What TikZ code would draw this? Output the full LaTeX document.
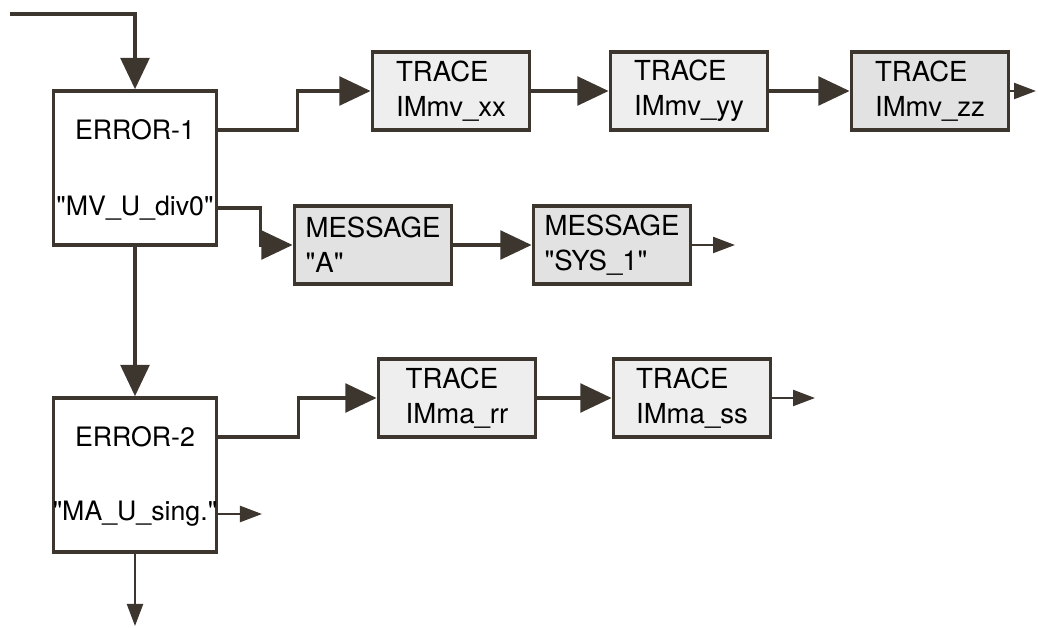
\documentclass[tikz,border=0pt]{standalone}
\usepackage{fontspec}
\setmainfont{TeX Gyre Heros}
\usetikzlibrary{arrows.meta}
\definecolor{inkbrown}{RGB}{60,54,47}
\definecolor{stipple}{RGB}{238,238,238}
\definecolor{stippledk}{RGB}{226,226,226}
\tikzset{
  errbox/.style={draw=inkbrown, line width=2.6pt, fill=white, minimum width=4.08cm, minimum height=3.85cm},
  tracebox/.style={draw=inkbrown, line width=2.6pt, fill=stipple, minimum width=3.93cm, minimum height=1.95cm, align=left, inner sep=0pt, font=\fontsize{19.6}{25}\selectfont},
  msgbox/.style={tracebox, fill=stippledk},
  lbl/.style={font=\fontsize{19}{22}\selectfont, inner sep=1pt},
  conn/.style={inkbrown, line width=2.2pt, -{Triangle[length=0.78cm,width=0.72cm]}},
  exit/.style={inkbrown, line width=1.6pt, -{Triangle[length=0.55cm,width=0.4cm]}},
}
\begin{document}
\begin{tikzpicture}[x=0.025cm,y=-0.025cm]
  \useasboundingbox (0,0) rectangle (1038,628);
  % error boxes
  \node[errbox] (err1) at (135,168) {};
  \node[lbl] (err1t) at (135,130) {ERROR-1};
  \node[lbl] (err1m) at (135,208) {\textquotedbl MV\_U\_div0\textquotedbl};
  \node[errbox] (err2) at (135,475) {};
  \node[lbl] (err2t) at (135,437) {ERROR-2};
  \node[lbl] (err2m) at (135,514) {\textquotedbl MA\_U\_sing.\textquotedbl};
  % trace and message chains
  \node[tracebox] (tr1) at (451,91) {TRACE\\IMmv\_xx};
  \node[tracebox] (tr2) at (689,91) {TRACE\\IMmv\_yy};
  \node[msgbox] (tr3) at (930,91) {TRACE\\IMmv\_zz};
  \node[msgbox] (msg1) at (373,245) {MESSAGE\\\textquotedbl A\textquotedbl};
  \node[msgbox] (msg2) at (612,245) {MESSAGE\\\textquotedbl SYS\_1\textquotedbl};
  \node[tracebox] (tr4) at (457,398) {TRACE\\IMma\_rr};
  \node[tracebox] (tr5) at (692,398) {TRACE\\IMma\_ss};
  % loose ends
  \coordinate (entry) at (10,14);
  \coordinate (tr3out) at (1036,91);
  \coordinate (msg2out) at (735,245);
  \coordinate (tr5out) at (815,398);
  \coordinate (err2out) at (262,514);
  \coordinate (err2down) at (135,626);
  % connectors
  \draw[conn] (entry) -| (err1);
  \draw[conn] (err1.east |- err1t) -- ++(79,0) |- (tr1);
  \draw[conn] (tr1) -- (tr2);
  \draw[conn] (tr2) -- (tr3);
  \draw[exit] (tr3) -- (tr3out);
  \draw[conn] (err1.east |- err1m) -- ++(42,0) |- (msg1);
  \draw[conn] (msg1) -- (msg2);
  \draw[exit] (msg2) -- (msg2out);
  \draw[conn] (err1) -- (err2);
  \draw[conn] (err2.east |- err2t) -- ++(80,0) |- (tr4);
  \draw[conn] (tr4) -- (tr5);
  \draw[exit] (tr5) -- (tr5out);
  \draw[exit] (err2.east |- err2m) -- (err2out);
  \draw[exit] (err2) -- (err2down);
\end{tikzpicture}
\end{document}
